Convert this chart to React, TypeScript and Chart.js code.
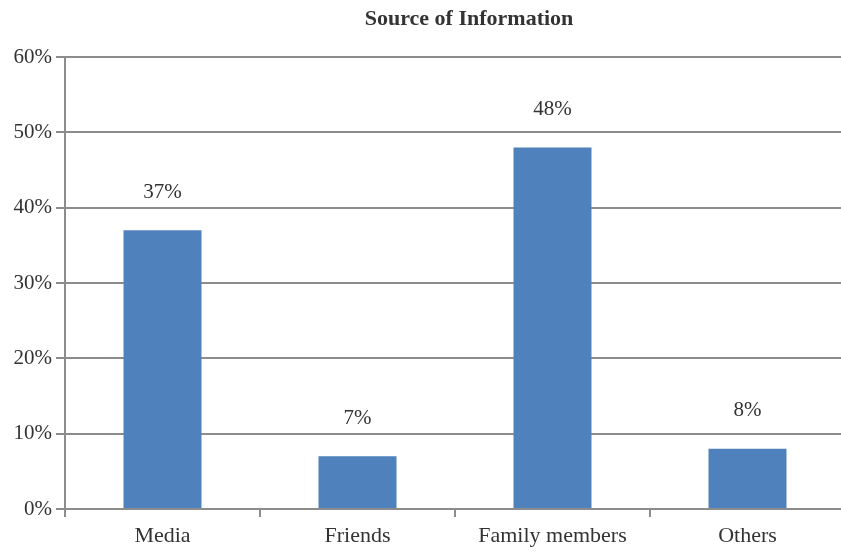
import React, { useEffect, useRef } from "react";
import { Chart, registerables } from "chart.js";

Chart.register(...registerables);

const title = "Source of Information";
const categories = ["Media", "Friends", "Family members", "Others"];
const values = [37, 7, 48, 8];
const valueLabels = ["37%", "7%", "48%", "8%"];
const yMin = 0;
const yMax = 60;
const yStep = 10;

const FONT = "'Liberation Serif', serif";
const TEXT = "#333333";
const GRID = "#8c8c8c";

export default function App() {
  const ref = useRef<HTMLCanvasElement>(null);
  useEffect(() => {
    const canvas = ref.current;
    if (!canvas) return;
    const labelPlugin = {
      id: "valueLabels",
      afterDatasetsDraw(chart: any) {
        const ctx = chart.ctx;
        const meta = chart.getDatasetMeta(0);
        ctx.save();
        ctx.fillStyle = TEXT;
        ctx.font = "21px " + FONT;
        ctx.textAlign = "center";
        ctx.textBaseline = "middle";
        meta.data.forEach((bar: any, i: number) => {
          ctx.fillText(valueLabels[i], bar.x, bar.y - 38);
        });
        ctx.restore();
      },
    };
    const titlePlugin = {
      id: "titleText",
      afterDraw(chart: any) {
        const ctx = chart.ctx;
        ctx.save();
        ctx.fillStyle = TEXT;
        ctx.font = "bold 22px " + FONT;
        ctx.textAlign = "center";
        ctx.textBaseline = "middle";
        const a = chart.chartArea;
        ctx.fillText(title, a.left + (a.right - a.left) * 0.518, 19);
        ctx.restore();
      },
    };
    const chart = new Chart(canvas, {
      type: "bar",
      data: {
        labels: categories,
        datasets: [
          {
            data: values,
            backgroundColor: "#4F81BD",
            borderWidth: 0,
            barPercentage: 0.4,
            categoryPercentage: 1,
          },
        ],
      },
      options: {
        animation: false,
        responsive: false,
        maintainAspectRatio: false,
        layout: { padding: { top: 57, right: 0, left: 0, bottom: 0 } },
        plugins: {
          legend: { display: false },
          title: { display: false },
          tooltip: { enabled: false },
        },
        scales: {
          x: {
            offset: true,
            grid: {
              display: true,
              drawOnChartArea: false,
              drawTicks: true,
              tickLength: 8,
              color: GRID,
              lineWidth: 2,
              offset: true,
            },
            border: { display: true, color: GRID, width: 2 },
            ticks: {
              color: TEXT,
              font: { family: FONT, size: 22 },
              padding: 6,
            },
            afterFit(scale: any) {
              scale.height = 43;
            },
          },
          y: {
            min: yMin,
            max: yMax,
            grid: {
              color: GRID,
              lineWidth: 2,
              tickLength: 9,
            },
            border: { display: true, color: GRID, width: 2 },
            ticks: {
              stepSize: yStep,
              color: TEXT,
              font: { family: FONT, size: 21 },
              padding: 4,
              callback: (v: any) => v + "%",
            },
            afterFit(scale: any) {
              scale.width = 65;
            },
          },
        },
      },
      plugins: [labelPlugin, titlePlugin],
    });
    return () => chart.destroy();
  }, []);
  return (
    <div
      style={{
        position: "absolute",
        left: 0,
        top: 0,
        width: 841,
        height: 552,
        overflow: "hidden",
        background: "#fff",
      }}
    >
      <canvas ref={ref} width={845} height={552} style={{ display: "block" }} />
    </div>
  );
}
